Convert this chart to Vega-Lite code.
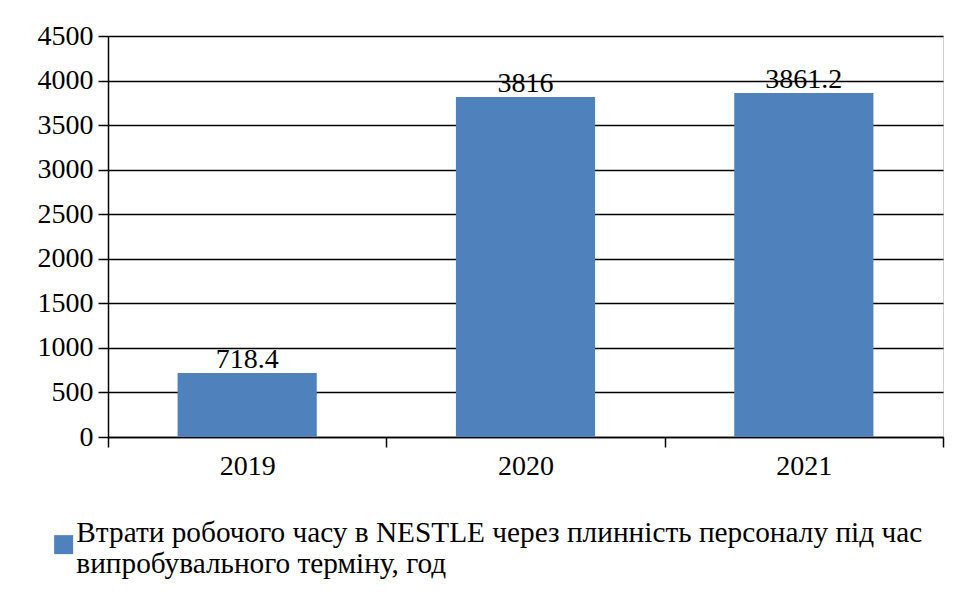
{
  "$schema": "https://vega.github.io/schema/vega-lite/v6.json",
  "autosize": "none",
  "width": 835,
  "height": 401,
  "padding": {"left": 108, "top": 36, "right": 11, "bottom": 159},
  "background": "white",
  "data": {
    "values": [
      {"year": "2019", "hours": 718.4, "series": "Втрати робочого часу в NESTLE через плинність персоналу під час випробувального терміну, год"},
      {"year": "2020", "hours": 3816, "series": "Втрати робочого часу в NESTLE через плинність персоналу під час випробувального терміну, год"},
      {"year": "2021", "hours": 3861.2, "series": "Втрати робочого часу в NESTLE через плинність персоналу під час випробувального терміну, год"}
    ]
  },
  "encoding": {
    "x": {
      "field": "year",
      "type": "ordinal",
      "scale": {"paddingInner": 0, "paddingOuter": 0},
      "axis": {
        "title": null,
        "labelAngle": 0,
        "tickBand": "extent",
        "tickSize": 10,
        "tickColor": "#000",
        "tickWidth": 1.5,
        "domainColor": "#000",
        "domainWidth": 1.5,
        "labelFont": "Liberation Serif",
        "labelFontSize": 28,
        "labelColor": "#000",
        "labelPadding": 5
      }
    },
    "y": {
      "field": "hours",
      "type": "quantitative",
      "scale": {"domain": [0, 4500], "nice": false},
      "axis": {
        "title": null,
        "format": "d",
        "values": [0, 500, 1000, 1500, 2000, 2500, 3000, 3500, 4000, 4500],
        "grid": true,
        "gridColor": "#000",
        "gridWidth": 1.4,
        "gridOpacity": 1,
        "tickSize": 10,
        "tickColor": "#000",
        "tickWidth": 1.5,
        "domainColor": "#000",
        "domainWidth": 1.5,
        "labelFont": "Liberation Serif",
        "labelFontSize": 28,
        "labelColor": "#000",
        "labelPadding": 5
      }
    }
  },
  "layer": [
    {
      "mark": {"type": "bar", "color": "#4F81BD", "width": {"band": 0.5}},
      "encoding": {
        "color": {
          "field": "series",
          "type": "nominal",
          "scale": {"range": ["#4F81BD"]},
          "legend": {
            "title": null,
            "orient": "none",
            "legendX": -59,
            "legendY": 482,
            "symbolType": "M-1,0.263H1V2.263H-1Z",
            "symbolSize": 361,
            "symbolStrokeWidth": 0,
            "symbolOpacity": 1,
            "symbolFillColor": "#4F81BD",
            "labelFont": "Liberation Serif",
            "labelFontSize": 29.3,
            "labelColor": "#000",
            "labelBaseline": "middle",
            "labelOffset": -2,
            "labelLimit": 1000,
            "labelExpr": "['Втрати робочого часу в NESTLE через плинність персоналу під час', 'випробувального терміну, год']"
          }
        }
      }
    },
    {
      "mark": {"type": "text", "baseline": "alphabetic", "dy": -5, "font": "Liberation Serif", "fontSize": 28, "color": "#000"},
      "encoding": {"text": {"field": "hours", "type": "quantitative"}}
    }
  ],
  "config": {
    "font": "Liberation Serif",
    "view": {"stroke": "#d0d0d0", "strokeWidth": 1},
    "style": {"guide-label": {"lineHeight": 31}}
  }
}
